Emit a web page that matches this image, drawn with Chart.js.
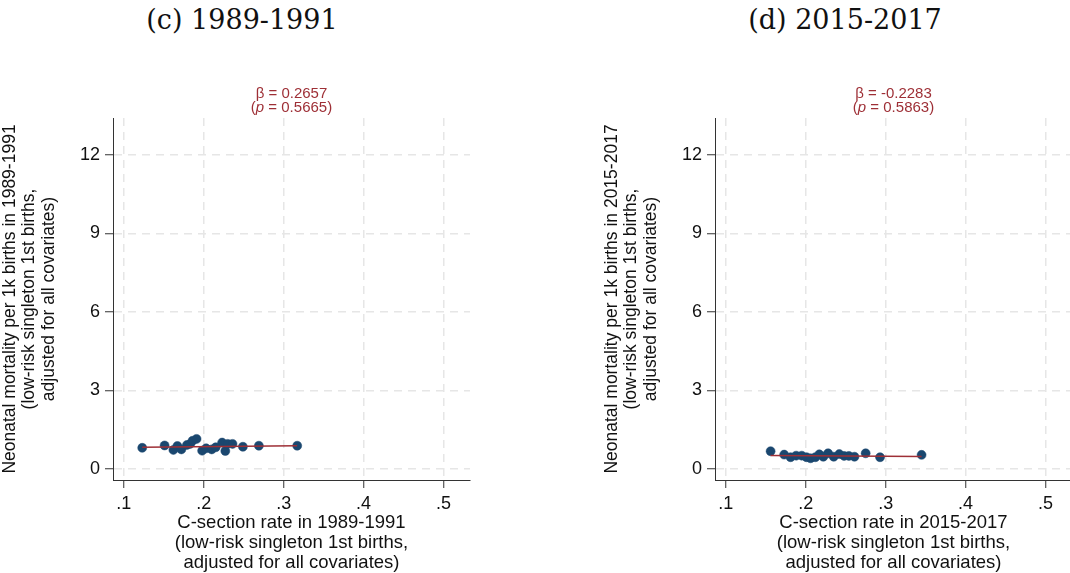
<!DOCTYPE html>
<html>
<head>
<meta charset="utf-8">
<script src="https://cdn.jsdelivr.net/npm/chart.js@4/dist/chart.umd.min.js"></script>
<style>
  html, body { margin: 0; padding: 0; background: #fff; overflow: hidden; }
  body { width: 1070px; height: 573px; position: relative; }
  .panel { position: absolute; top: 0; width: 475px; height: 573px; }
  .panel h2 {
    position: absolute; top: 4px; margin: 0; font-weight: normal;
    font-family: "DejaVu Serif", serif; font-size: 27px; color: #111;
    width: 300px; text-align: center;
  }
  canvas { position: absolute; left: 0; top: 0; }
</style>
</head>
<body>
<div class="panel" style="left:0px"><h2 style="left:92px">(c) 1989-1991</h2><canvas id="chartC" width="475" height="573"></canvas></div>
<div class="panel" style="left:602px"><h2 style="left:93px">(d) 2015-2017</h2><canvas id="chartD" width="475" height="573"></canvas></div>
<script>
// binned scatter values
var csec8991 = [0.123, 0.151, 0.162, 0.167, 0.172, 0.179, 0.183, 0.186, 0.191, 0.198, 0.203, 0.210, 0.215, 0.223, 0.227, 0.230, 0.236, 0.249, 0.269, 0.317];
var mort8991 = [0.81, 0.90, 0.73, 0.88, 0.75, 0.92, 0.96, 1.08, 1.15, 0.70, 0.79, 0.75, 0.83, 1.01, 0.69, 0.96, 0.96, 0.85, 0.89, 0.89];

var csec1517 = [0.156, 0.173, 0.181, 0.188, 0.195, 0.201, 0.206, 0.212, 0.217, 0.222, 0.228, 0.235, 0.242, 0.248, 0.254, 0.261, 0.275, 0.293, 0.345];
var mort1517 = [0.68, 0.55, 0.45, 0.51, 0.51, 0.45, 0.41, 0.45, 0.56, 0.47, 0.60, 0.47, 0.57, 0.50, 0.50, 0.47, 0.60, 0.45, 0.54];

// fitted line end points
var fitX8991 = [0.123, 0.317];
var fitY8991 = [0.835, 0.887];
var fitX1517 = [0.156, 0.345];
var fitY1517 = [0.52, 0.477];

var betas = ['0.2657', '-0.2283'];
var pvals = ['0.5665', '0.5863'];

var xTicks = [0.1, 0.2, 0.3, 0.4, 0.5];
var yTicks = [0, 3, 6, 9, 12];

var navy = '#1a476f';
var maroon = '#9e2f36';
var sans = '"Liberation Sans", Arial, sans-serif';

var betaNote = {
    id: 'betaNote',
    afterDraw: function (chart, args, opts) {
        var ctx = chart.ctx;
        var cx = (chart.chartArea.left + chart.chartArea.right) / 2;
        ctx.save();
        ctx.fillStyle = maroon;
        ctx.textBaseline = 'middle';
        ctx.textAlign = 'center';
        ctx.font = '15px ' + sans;
        ctx.fillText('\u03b2 = ' + opts.beta, cx, 94);
        // second line with italic p
        var a = '(', b = 'p', c = ' = ' + opts.p + ')';
        var fN = '15px ' + sans, fI = 'italic 15px ' + sans;
        ctx.font = fN; var wa = ctx.measureText(a).width, wc = ctx.measureText(c).width;
        ctx.font = fI; var wb = ctx.measureText(b).width;
        var x = cx - (wa + wb + wc) / 2;
        ctx.textAlign = 'left';
        ctx.font = fN; ctx.fillText(a, x, 108);
        ctx.font = fI; ctx.fillText(b, x + wa, 108);
        ctx.font = fN; ctx.fillText(c, x + wa + wb, 108);
        ctx.restore();
    }
};

function pts(xs, ys) {
    return xs.map(function (v, i) { return { x: v, y: ys[i] }; });
}

function fmtX(v) {
    return String(Math.round(v * 10) / 10).replace(/^0/, '');
}

function drawPanel(id, period, xs, ys, fx, fy, beta, p) {
    var ctx = document.getElementById(id).getContext('2d');
    return new Chart(ctx, {
        type: 'scatter',
        data: {
            datasets: [{
                type: 'line',
                data: pts(fx, fy),
                borderColor: maroon,
                borderWidth: 1.5,
                pointRadius: 0,
                fill: false
            }, {
                data: pts(xs, ys),
                backgroundColor: navy,
                borderColor: navy,
                pointRadius: 4.5,
                borderWidth: 0.5
            }]
        },
        options: {
            responsive: false,
            animation: false,
            layout: { padding: { top: 118, right: 0, left: 0, bottom: 0 } },
            plugins: {
                legend: { display: false },
                tooltip: { enabled: false },
                betaNote: { beta: beta, p: p }
            },
            scales: {
                x: {
                    type: 'linear',
                    min: 0.0864,
                    max: 0.5333,
                    afterBuildTicks: function (s) { s.ticks = xTicks.map(function (v) { return { value: v }; }); },
                    afterFit: function (s) { s.height = 93; },
                    grid: {
                        color: '#e6e6e6', lineWidth: 1.5,
                        tickColor: '#333', tickWidth: 1, tickLength: 8, tickBorderDash: []
                    },
                    border: { color: '#333', width: 1, dash: [8, 6] },
                    ticks: {
                        color: '#111', padding: 5,
                        font: { family: sans, size: 18 },
                        maxRotation: 0,
                        callback: function (v) { return fmtX(v); }
                    },
                    title: {
                        display: true,
                        text: ['C-section rate in ' + period, '(low-risk singleton 1st births,', 'adjusted for all covariates)'],
                        color: '#111',
                        font: { family: sans, size: 18.5, lineHeight: 1.09 },
                        padding: { top: 0, bottom: 0 }
                    }
                },
                y: {
                    type: 'linear',
                    min: -0.42,
                    max: 13.41,
                    afterBuildTicks: function (s) { s.ticks = yTicks.map(function (v) { return { value: v }; }); },
                    afterFit: function (s) { s.width = 113; },
                    grid: {
                        color: '#e6e6e6', lineWidth: 1.5,
                        tickColor: '#333', tickWidth: 1, tickLength: 8, tickBorderDash: []
                    },
                    border: { color: '#333', width: 1, dash: [8, 6] },
                    ticks: {
                        color: '#111', padding: 5,
                        font: { family: sans, size: 18 }
                    },
                    title: {
                        display: true,
                        text: ['Neonatal mortality per 1k births in ' + period, '(low-risk singleton 1st births,', 'adjusted for all covariates)'],
                        color: '#111',
                        font: { family: sans, size: 17.5, lineHeight: 1.12 },
                        padding: { top: 0, bottom: 0 }
                    }
                }
            }
        },
        plugins: [betaNote]
    });
}

drawPanel('chartC', '1989-1991', csec8991, mort8991, fitX8991, fitY8991, betas[0], pvals[0]);
drawPanel('chartD', '2015-2017', csec1517, mort1517, fitX1517, fitY1517, betas[1], pvals[1]);
</script>
</body>
</html>
